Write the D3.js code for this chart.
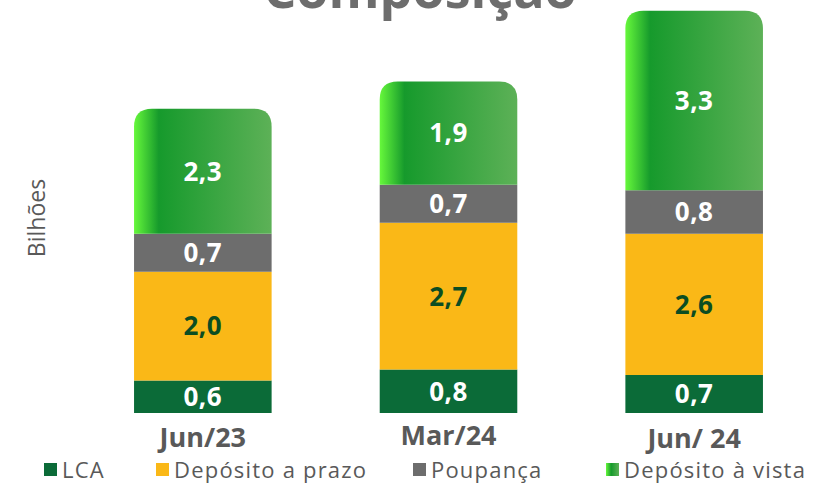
<!DOCTYPE html>
<html>
<head>
<meta charset="utf-8">
<script src="https://cdn.jsdelivr.net/npm/d3@7"></script>
<style>
  body { margin: 0; background: #fff; }
</style>
</head>
<body>
<svg width="815" height="486"></svg>
<script>
var categories = ["Jun/23", "Mar/24", "Jun/ 24"];
var series = ["LCA", "Depósito a prazo", "Poupança", "Depósito à vista"];
var lca = [0.6, 0.8, 0.7];
var prazo = [2.0, 2.7, 2.6];
var poupanca = [0.7, 0.7, 0.8];
var vista = [2.3, 1.9, 3.3];

var svg = d3.select("svg"),
    width = +svg.attr("width"),
    height = +svg.attr("height");

var colors = ["#0b6b38", "#fab817", "#6d6d6d", "url(#greenGrad)"];
var labelColors = ["#ffffff", "#0b4d22", "#ffffff", "#ffffff"];

var defs = svg.append("defs");
var grad = defs.append("linearGradient")
    .attr("id", "greenGrad")
    .attr("x1", "0%").attr("x2", "100%")
    .attr("y1", "0%").attr("y2", "0%");
grad.append("stop").attr("offset", "0%").attr("stop-color", "#66f83b");
grad.append("stop").attr("offset", "18%").attr("stop-color", "#169a2c");
grad.append("stop").attr("offset", "100%").attr("stop-color", "#5db157");

var legGrad = defs.append("linearGradient")
    .attr("id", "legGrad")
    .attr("x1", "0%").attr("x2", "100%");
legGrad.append("stop").attr("offset", "0%").attr("stop-color", "#66f83b");
legGrad.append("stop").attr("offset", "40%").attr("stop-color", "#169a2c");
legGrad.append("stop").attr("offset", "100%").attr("stop-color", "#5db157");

var rows = categories.map(function (c, i) {
    return { cat: c, LCA: lca[i], "Depósito a prazo": prazo[i], "Poupança": poupanca[i], "Depósito à vista": vista[i] };
});
var stacked = d3.stack().keys(series)(rows);

var x = d3.scaleBand()
    .domain(categories)
    .range([80, 817])
    .paddingInner(0.44)
    .paddingOuter(0.22);

var y = d3.scaleLinear()
    .domain([0, 7.6])
    .range([413, 0]);

// title (cut off at the top, as in the original)
svg.append("text")
    .attr("x", 420)
    .attr("y", 8)
    .attr("text-anchor", "middle")
    .attr("font-family", "Open Sans")
    .attr("font-weight", "bold")
    .attr("font-size", "52px")
    .attr("fill", "#6d6d6d")
    .text("Composição");

// y axis title
svg.append("text")
    .attr("transform", "translate(45,218) rotate(-90)")
    .attr("text-anchor", "middle")
    .attr("font-family", "Open Sans")
    .attr("font-size", "23px")
    .attr("fill", "#595959")
    .text("Bilhões");

var r = 18;
function topRounded(x0, y0, w, h) {
    var rr = Math.min(r, h);
    return "M" + x0 + "," + (y0 + h) +
        "V" + (y0 + rr) +
        "Q" + x0 + "," + y0 + " " + (x0 + rr) + "," + y0 +
        "H" + (x0 + w - rr) +
        "Q" + (x0 + w) + "," + y0 + " " + (x0 + w) + "," + (y0 + rr) +
        "V" + (y0 + h) + "Z";
}

stacked.forEach(function (layer, li) {
    var g = svg.append("g").attr("class", "layer");
    g.selectAll("path")
        .data(layer)
        .enter().append("path")
        .attr("d", function (d) {
            var x0 = x(d.data.cat), w = x.bandwidth();
            var y0 = y(d[1]), h = y(d[0]) - y(d[1]);
            if (li === series.length - 1) return topRounded(x0, y0, w, h);
            return "M" + x0 + "," + y0 + "h" + w + "v" + h + "h" + (-w) + "Z";
        })
        .attr("fill", colors[li]);

    g.selectAll("text")
        .data(layer)
        .enter().append("text")
        .attr("x", function (d) { return x(d.data.cat) + x.bandwidth() / 2; })
        .attr("y", function (d) { return (y(d[0]) + y(d[1])) / 2; })
        .attr("dy", "0.36em")
        .attr("text-anchor", "middle")
        .attr("font-family", "Open Sans")
        .attr("font-weight", "bold")
        .attr("font-size", "26px")
        .attr("letter-spacing", "0.5px")
        .attr("fill", labelColors[li])
        .text(function (d) { return d3.format(".1f")(d[1] - d[0]).replace(".", ","); });
});

// category labels
var catBase = [447, 445, 448];
svg.append("g")
    .selectAll("text")
    .data(categories)
    .enter().append("text")
    .attr("x", function (d) { return x(d) + x.bandwidth() / 2; })
    .attr("y", function (d, i) { return catBase[i]; })
    .attr("text-anchor", "middle")
    .attr("font-family", "Open Sans")
    .attr("font-weight", "bold")
    .attr("font-size", "27px")
    .attr("fill", "#595959")
    .text(function (d) { return d; });

// legend
var legendX = [44, 156, 413, 606];
var legend = svg.append("g").attr("class", "legend");
var item = legend.selectAll("g")
    .data(series)
    .enter().append("g")
    .attr("transform", function (d, i) { return "translate(" + legendX[i] + ",463)"; });
item.append("rect")
    .attr("width", 13)
    .attr("height", 13)
    .attr("fill", function (d, i) { return i === 3 ? "url(#legGrad)" : colors[i]; });
item.append("text")
    .attr("x", 18)
    .attr("y", 15)
    .attr("font-family", "Open Sans")
    .attr("font-size", "22px")
    .attr("letter-spacing", "1.2px")
    .attr("fill", "#595959")
    .text(function (d) { return d; });
</script>
</body>
</html>
